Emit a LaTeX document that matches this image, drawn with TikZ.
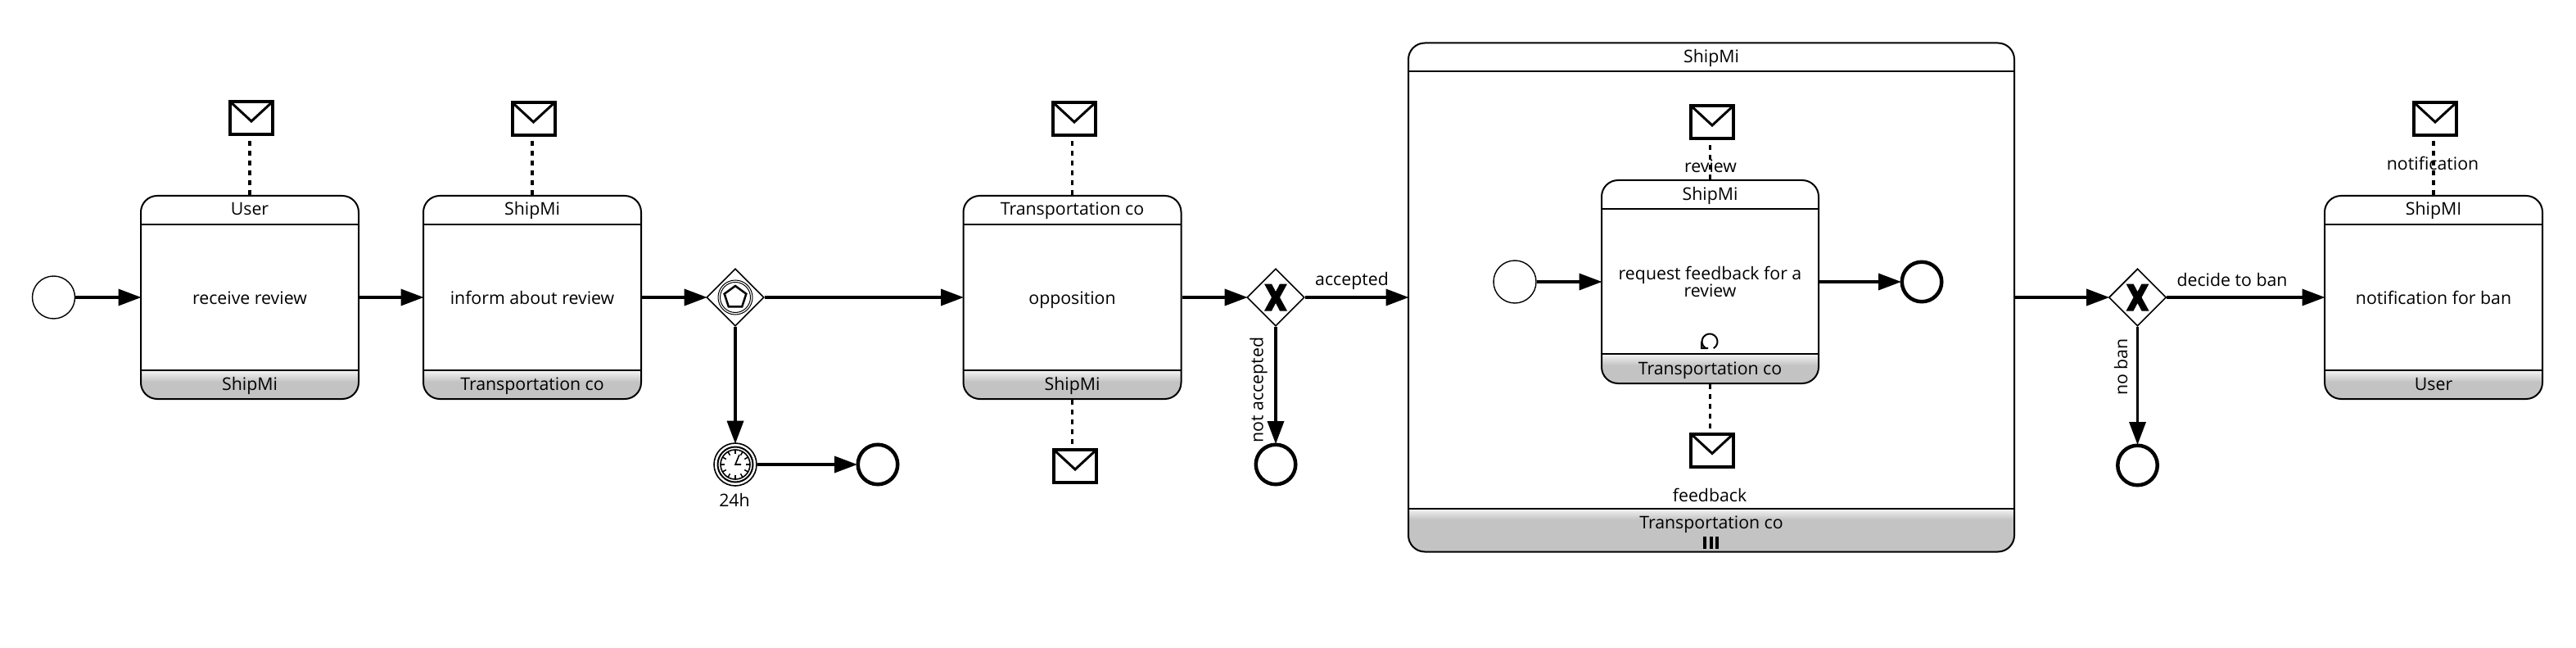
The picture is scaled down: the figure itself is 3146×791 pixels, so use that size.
\documentclass[tikz,border=0pt]{standalone}
\usepackage{fontspec}
\setmainfont{Open Sans}
\usetikzlibrary{arrows.meta,shapes.geometric}
\definecolor{footgray}{HTML}{C3C3C3}

\begin{document}
\begin{tikzpicture}[x=.5pt,y=-.5pt,>={Triangle[length=14pt,width=10pt]},every node/.style={font=\fontsize{10.65}{10.5}\selectfont,inner sep=0pt},
activity/.style n args={3}{rectangle,draw,line width=1pt,rounded corners=10pt,fill=white,align=center,minimum width=#1,minimum height=#2,
  path picture={\begin{scope}[sharp corners]
  \fill[footgray] ([yshift=#3]path picture bounding box.south west) rectangle (path picture bounding box.south east);
  \shade[top color=gray!8,bottom color=footgray] ([yshift=#3]path picture bounding box.south west) rectangle ([yshift=#3-7pt]path picture bounding box.south east);
  \draw[line width=1pt] ([yshift=#3]path picture bounding box.south west)--([yshift=#3]path picture bounding box.south east);
  \draw[line width=1pt] ([yshift=-17.5pt]path picture bounding box.north west)--([yshift=-17.5pt]path picture bounding box.north east);
  \end{scope}}},
task/.style={activity={133pt}{124pt}{17.5pt},text height=10pt,text depth=2pt},
party/.style={text height=8pt,text depth=2pt},
startevent/.style={circle,draw,line width=.7pt,fill=white,minimum size=26pt},
endevent/.style={circle,draw,line width=2.25pt,fill=white,minimum size=24.25pt},
timerevent/.style={circle,draw,line width=.8pt,fill=white,minimum size=26pt,
  path picture={\begin{scope}[shift={(path picture bounding box.center)}]
  \draw[line width=1pt] (0,0) circle[radius=21.5];
  \draw[line width=.8pt] (0,0) circle[radius=18];
  \foreach \a in {0,30,...,330} \draw[line width=.75pt] (\a:13) -- (\a:18);
  \draw[line width=.8pt] (5,-12) -- (0,0) -- (7,0);
  \end{scope}}},
gate/.style={diamond,draw,line width=.8pt,fill=white,aspect=1,minimum size=35pt},
xgate/.style={gate,path picture={\fill[black,shift={(path picture bounding box.center)}] (-14,-16.5) -- (-5,-16.5) -- (0,-7) -- (5,-16.5) -- (14,-16.5) -- (5,0) -- (14,16.5) -- (5,16.5) -- (0,7) -- (-5,16.5) -- (-14,16.5) -- (-5,0) -- cycle;}},
eventgate/.style={gate,path picture={\begin{scope}[shift={(path picture bounding box.center)}]
  \draw[line width=.5pt] (0,0) circle[radius=21] (0,0) circle[radius=18.5];
  \draw[line width=1.25pt] (-90:14) -- (-18:14) -- (54:14) -- (126:14) -- (198:14) -- cycle;
  \end{scope}}},
envelope/.style={rectangle,draw,line width=2pt,fill=white,minimum width=26pt,minimum height=20pt,
  path picture={\draw[line width=1.5pt] (path picture bounding box.north west) -- ([yshift=-12pt]path picture bounding box.north) -- (path picture bounding box.north east);}},
seqflow/.style={->,line width=1.75pt,shorten >=-.75pt},
msgflow/.style={line width=1.75pt,dash pattern=on 3pt off 3pt}]
\useasboundingbox (0,0) rectangle (3146,791);
% outer process
\node[startevent] (start) at (65.5,363) {};
\node[task] (review) at (305,363) {receive review};
\node[party] (reviewh) at ([yshift=-9.5pt]review.north) {User};
\node[party] (reviewf) at ([yshift=8.75pt]review.south) {ShipMi};
\node[task] (inform) at (650,363) {inform about review};
\node[party] (informh) at ([yshift=-9.5pt]inform.north) {ShipMi};
\node[party] (informf) at ([yshift=8.75pt]inform.south) {Transportation co};
\node[eventgate] (gwevent) at (898,363) {};
\node[timerevent] (timer) at (898,567) {};
\node (timerl) at (897,610) {24h};
\node[endevent] (endtimer) at (1072,567) {};
\node[task] (oppose) at (1309.5,363) {opposition};
\node[party] (opposeh) at ([yshift=-9.5pt]oppose.north) {Transportation co};
\node[party] (opposef) at ([yshift=8.75pt]oppose.south) {ShipMi};
\node[xgate] (gwaccept) at (1558,363) {};
\node[endevent] (endaccept) at (1558,567) {};
% multi instance subprocess
\node[activity={370pt}{310.5pt}{26.5pt}] (sub) at (2090,363) {};
\node[party] (subh) at ([yshift=-9.5pt]sub.north) {ShipMi};
\node[party] (subf) at ([yshift=17.5pt]sub.south) {Transportation co};
\draw[line width=2pt] (2082,655) -- (2082,670) (2089.5,655) -- (2089.5,670) (2097,655) -- (2097,670);
\node[startevent] (substart) at (1850,344) {};
\node[activity={132.5pt}{124pt}{18pt}] (request) at (2088.5,344) {request feedback for a\\review};
\node[party] (requesth) at ([yshift=-9.5pt]request.north) {ShipMi};
\node[party] (requestf) at ([yshift=9pt]request.south) {Transportation co};
\node[endevent] (subend) at (2347,344) {};
\draw[line width=1pt] (2092.75,425.2) arc[start angle=60,end angle=-240,radius=9.5] (2078,416.5) -- (2078,425) -- (2086,425);
% rest of the process
\node[xgate] (gwban) at (2610.5,363) {};
\node[endevent] (endban) at (2610.5,568) {};
\node[task] (banmsg) at (2972,363) {notification for ban};
\node[party] (banmsgh) at ([yshift=-9.5pt]banmsg.north) {ShipMI};
\node[party] (banmsgf) at ([yshift=8.75pt]banmsg.south) {User};
% messages
\node[envelope] (m1) at (307,144) {};
\node[envelope] (m2) at (651.5,145) {};
\node[envelope] (m3) at (1312,145) {};
\node[envelope] (m4) at (1313,569) {};
\node[envelope] (m5) at (2091,149) {};
\node[envelope] (m6) at (2091,549.5) {};
\node[envelope] (m7) at (2974,145) {};
\draw[msgflow,shorten >=2.5pt] (review) -- (review |- m1.south);
\draw[msgflow,shorten >=2.5pt] (inform) -- (inform |- m2.south);
\draw[msgflow,shorten >=2.5pt] (oppose) -- (oppose |- m3.south);
\draw[msgflow,shorten >=2.5pt] (oppose) -- (oppose |- m4.north);
\draw[msgflow,shorten >=2.5pt] (request) -- (request |- m5.south);
\draw[msgflow,shorten >=2.5pt] (request) -- (request |- m6.north);
\draw[msgflow,shorten >=2.5pt] (banmsg) -- (banmsg |- m7.south);
\node (m5l) at (2089,203) {review};
\node (m6l) at (2088,604) {feedback};
\node (m7l) at (2971,199) {notification};
% sequence flows
\draw[seqflow] (start) -- (review);
\draw[seqflow] (review) -- (inform);
\draw[seqflow] (inform) -- (gwevent);
\draw[seqflow] (gwevent) -- (oppose);
\draw[seqflow] (gwevent) -- (timer);
\draw[seqflow] (timer) -- (endtimer);
\draw[seqflow] (oppose) -- (gwaccept);
\draw[seqflow] (gwaccept) -- (sub);
\draw[seqflow] (gwaccept) -- (endaccept);
\draw[seqflow] (substart) -- (request);
\draw[seqflow] (request) -- (subend);
\draw[seqflow] (sub) -- (gwban);
\draw[seqflow] (gwban) -- (banmsg);
\draw[seqflow] (gwban) -- (endban);
\node (acceptl) at (1651,343) {accepted};
\node[rotate=90] (notacceptl) at (1537,476) {not accepted};
\node (banl) at (2726,342) {decide to ban};
\node[rotate=90] (nobanl) at (2590,448) {no ban};
\end{tikzpicture}
\end{document}
